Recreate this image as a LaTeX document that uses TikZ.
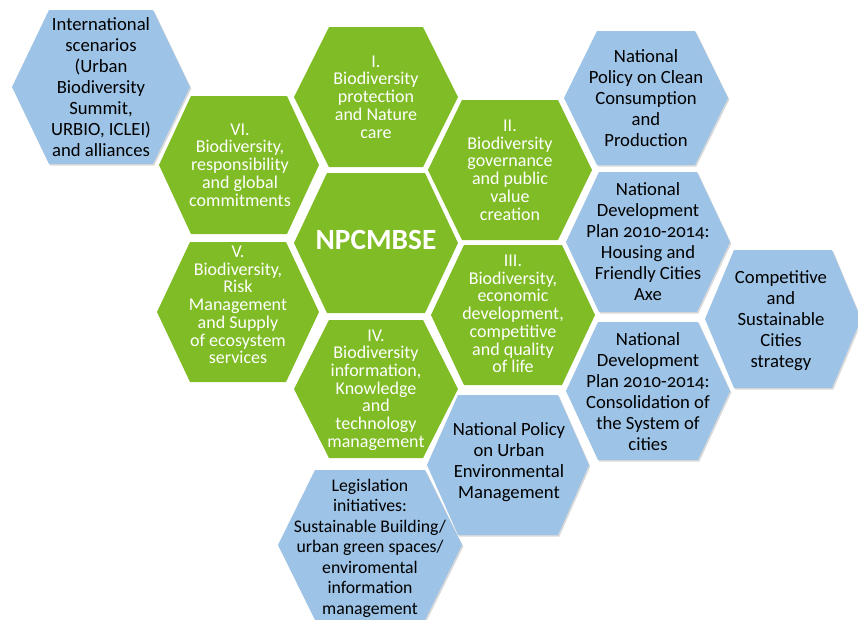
\documentclass[tikz,border=0pt]{standalone}
\usepackage{fontspec}
\setmainfont{Carlito}[Numbers=OldStyle]
\usetikzlibrary{shadows}
\definecolor{hexgreen}{RGB}{128,188,37}
\definecolor{hexblue}{RGB}{157,195,230}
\tikzset{
    greenhex/.style={fill=hexgreen},
    bluehex/.style={fill=hexblue, drop shadow={shadow xshift=1pt, shadow yshift=-1.2pt, opacity=0.3}},
    greentext/.style={text=white, align=center, font=\fontsize{13.5}{13.3}\selectfont},
    bluetext/.style={text=black, align=center, font=\fontsize{14}{15.75}\selectfont}
}
\begin{document}
\begin{tikzpicture}[x=0.75pt, y=-0.75pt]
\useasboundingbox (0,0) rectangle (858,619);
\foreach \x/\y/\w/\h/\a/\s in {101/87/89/77/52/bluehex, 646/98/82/67/49/bluehex,
        648/242/82/70/49/bluehex, 783/319/78/69/49/bluehex, 648/391/82/69/50/bluehex,
        508/465/81/70/50/bluehex, 370/545/92/75/55/bluehex,
        376/97/82/70/47/greenhex, 510/170/82/70/48/greenhex, 513/315/82/70/49/greenhex,
        376/389/82/69/47/greenhex, 238/312/81/70/48/greenhex, 239/165/80/69/48/greenhex,
        376/243/82/70/49/greenhex} {
    \fill[\s] (\x-\w,\y) -- (\x-\a,\y-\h) -- (\x+\a,\y-\h) -- (\x+\w,\y)
        -- (\x+\a,\y+\h) -- (\x-\a,\y+\h) -- cycle;
}
\node[greentext, font=\fontsize{22}{26}\selectfont\bfseries] (core) at (376,240) {NPCMBSE};
\node[greentext] (axis1) at (376,97) {I.\\Biodiversity\\protection\\and Nature\\care};
\node[greentext] (axis2) at (510,170) {II.\\Biodiversity\\governance\\and public\\value\\creation};
\node[greentext] (axis3) at (513,314) {III.\\Biodiversity,\\economic\\development,\\competitive\\and quality\\of life};
\node[greentext] (axis4) at (376,390) {IV.\\Biodiversity\\information,\\Knowledge\\and\\technology\\management};
\node[greentext] (axis5) at (238,305) {V.\\Biodiversity,\\Risk\\Management\\and Supply\\of ecosystem\\services};
\node[greentext] (axis6) at (240,165) {VI.\\Biodiversity,\\responsibility\\and global\\commitments};

\node[bluetext] (intl) at (101,87) {International\\scenarios\\(Urban\\Biodiversity\\Summit,\\URBIO, ICLEI)\\and alliances};
\node[bluetext] (cleanprod) at (646,98) {National\\Policy on Clean\\Consumption\\and\\Production};
\node[bluetext] (housing) at (648,242) {National\\Development\\Plan 2010-2014:\\Housing and\\Friendly Cities\\Axe};
\node[bluetext] (compcities) at (781,321) {Competitive\\and\\Sustainable\\Cities\\strategy};
\node[bluetext] (syscities) at (648,392) {National\\Development\\Plan 2010-2014:\\Consolidation of\\the System of\\cities};
\node[bluetext] (urbanenv) at (509,462) {National Policy\\on Urban\\Environmental\\Management};
\node[bluetext, font=\fontsize{13.3}{15.4}\selectfont] (legis) at (370,548) {Legislation\\initiatives:\\Sustainable Building/\\urban green spaces/\\enviromental\\information\\management};
\end{tikzpicture}
\end{document}
